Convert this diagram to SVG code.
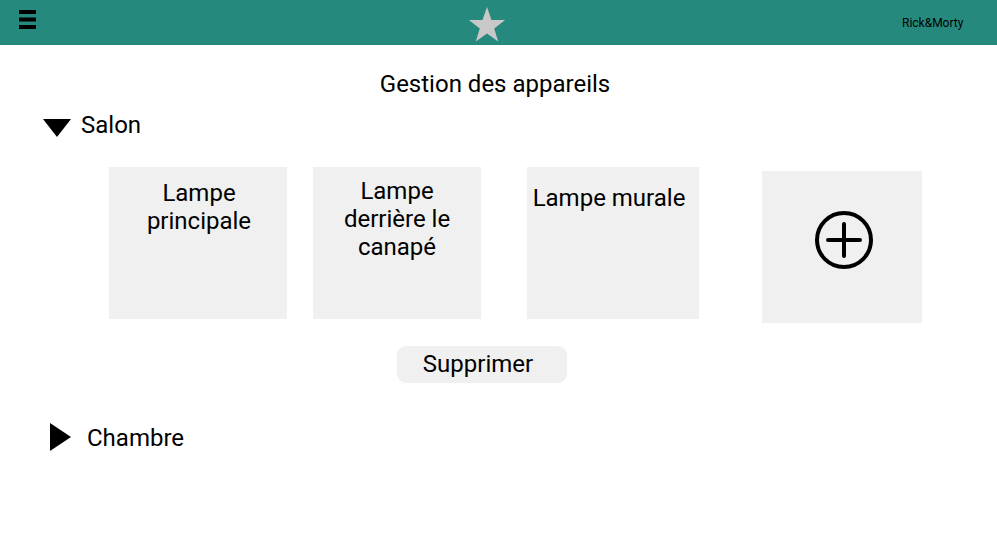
<svg xmlns="http://www.w3.org/2000/svg" width="997" height="553" viewBox="0 0 997 553">
<style>
text{font-family:Roboto,"Liberation Sans",sans-serif;fill:#000}
.lbl{font-size:24px;text-anchor:middle}
.card{fill:#f0f0f0}
</style>
<rect x="0" y="0" width="997" height="553" fill="#fff"/>
<g id="header">
<rect x="0" y="0" width="997" height="45" fill="#258a7d"/>
<g id="menu" fill="#000">
<rect x="19" y="10" width="17" height="4"/>
<rect x="19" y="17.5" width="17" height="4"/>
<rect x="19" y="25" width="17" height="4"/>
</g>
<path id="star" d="M487,7 L491.5,19.9 L505.1,20.1 L494.2,28.4 L498.2,41.4 L487,33.6 L475.8,41.4 L479.8,28.4 L468.9,20.1 L482.5,19.9 Z" fill="#c8c8c8"/>
<text x="902" y="27" font-size="12" fill="#1a1a1a">Rick&amp;Morty</text>
</g>
<text id="title" class="lbl" x="495" y="92">Gestion des appareils</text>
<g id="salon">
<path d="M43,119 L71,119 L57,137 Z" fill="#000"/>
<text x="81" y="133" font-size="24">Salon</text>
</g>
<g id="lampe-principale">
<rect class="card" x="109" y="167" width="178" height="152"/>
<text class="lbl" x="199" y="201">Lampe</text>
<text class="lbl" x="199" y="229">principale</text>
</g>
<g id="lampe-canape">
<rect class="card" x="313" y="167" width="168" height="152"/>
<text class="lbl" x="397" y="199">Lampe</text>
<text class="lbl" x="397" y="227">derrière le</text>
<text class="lbl" x="397" y="255">canapé</text>
</g>
<g id="lampe-murale">
<rect class="card" x="527" y="167" width="172" height="152"/>
<text class="lbl" x="609" y="206">Lampe murale</text>
</g>
<g id="ajouter">
<rect class="card" x="762" y="171" width="160" height="152"/>
<circle cx="844" cy="240" r="27" fill="none" stroke="#000" stroke-width="4"/>
<path d="M828,240 H860 M844,224 V256" stroke="#000" stroke-width="4" stroke-linecap="round"/>
</g>
<g id="supprimer">
<rect x="397" y="346" width="170" height="37" rx="9" fill="#f0f0f0"/>
<text class="lbl" x="478" y="372">Supprimer</text>
</g>
<g id="chambre">
<path d="M50,423 L50,451 L71,437 Z" fill="#000"/>
<text x="87" y="446" font-size="24">Chambre</text>
</g>
<g id="connectors"/>
</svg>
